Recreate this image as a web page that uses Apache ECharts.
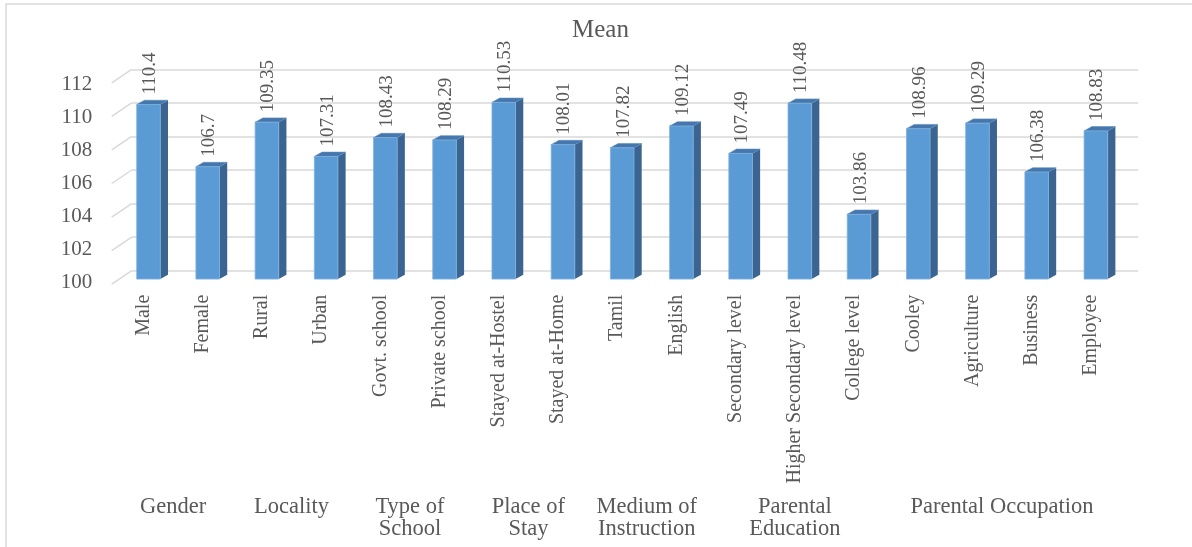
<!DOCTYPE html>
<html>
<head>
<meta charset="utf-8">
<script src="https://cdn.jsdelivr.net/npm/echarts@6/dist/echarts.min.js"></script>
<style>html,body{margin:0;padding:0;background:#fff;}#c{width:1192px;height:547px;}</style>
</head>
<body>
<div id="c"></div>
<script>
const categories = ['Male','Female','Rural','Urban','Govt. school','Private school','Stayed at-Hostel','Stayed at-Home','Tamil','English','Secondary level','Higher Secondary level','College level','Cooley','Agriculture','Business','Employee'];
const meanValues = [110.4,106.7,109.35,107.31,108.43,108.29,110.53,108.01,107.82,109.12,107.49,110.48,103.86,108.96,109.29,106.38,108.83];
const groupNames = ['Gender','Locality','Type of\nSchool','Place of\nStay','Medium of\nInstruction','Parental\nEducation','Parental Occupation'];
const groupStart = [0,2,4,6,8,10,13];
const groupEnd = [1,3,5,7,9,12,16];
const yTicks = [100,102,104,106,108,110,112];
const yMin = 100, yMax = 112, yStep = 2;

const FONT = "'Liberation Serif','Times New Roman',serif";
const TXT = '#595959';
const GRIDLINE = '#d9d9d9';

const chart = echarts.init(document.getElementById('c'), null, {renderer:'canvas'});

const option = {
  animation: false,
  backgroundColor: '#fff',
  title: {
    text: 'Mean', left: 572, top: 18, padding: 0,
    textStyle: {fontFamily: FONT, fontSize: 25, fontWeight: 'normal', color: TXT}
  },
  graphic: [{
    type: 'rect', silent: true, z: -10,
    shape: {x: 6, y: 4, width: 1400, height: 800},
    style: {fill: 'none', stroke: GRIDLINE, lineWidth: 1.5}
  }],
  grid: [
    {left: 131.7, right: 53.7, top: 69.3, bottom: 276.3},
    {left: 113.9, right: 71.5, top: 84, bottom: 264.3}
  ],
  xAxis: [
    {gridIndex: 0, type: 'category', data: categories, show: false},
    {gridIndex: 1, type: 'category', data: categories,
     axisLine: {show: false}, axisTick: {show: false}, splitLine: {show: false},
     axisLabel: {rotate: 90, margin: 12, interval: 0, fontFamily: FONT, fontSize: 20, color: TXT}}
  ],
  yAxis: [
    {gridIndex: 0, type: 'value', min: yMin, max: yMax, interval: yStep,
     axisLine: {show: false}, axisTick: {show: false}, axisLabel: {show: false},
     splitLine: {show: true, lineStyle: {color: GRIDLINE, width: 1.5}}},
    {gridIndex: 1, type: 'value', min: yMin, max: yMax, interval: yStep,
     axisLine: {show: false}, axisTick: {show: false}, splitLine: {show: false},
     axisLabel: {margin: 21.6, fontFamily: FONT, fontSize: 21, color: TXT}}
  ],
  series: [
    {
      type: 'custom', xAxisIndex: 0, yAxisIndex: 0, silent: true, z: 1,
      data: yTicks.map(t => [0, t]),
      renderItem: function (params, api) {
        const y = api.coord([0, api.value(1)])[1];
        const x = params.coordSys.x;
        return {type: 'line', shape: {x1: x, y1: y, x2: x - 20, y2: y + 13.5},
                style: {stroke: GRIDLINE, lineWidth: 1.5}};
      }
    },
    {
      type: 'custom', xAxisIndex: 0, yAxisIndex: 0, silent: true, z: 3,
      data: meanValues.map((v, i) => [i, v]),
      renderItem: function (params, api) {
        const i = api.value(0), v = api.value(1);
        const p = api.coord([i, v]);
        const b = api.coord([i, yMin]);
        const cx = p[0];
        const x0 = cx - 24.6, x1 = cx - 1;
        const off = 8.4;
        const yt = p[1] + off, yb = b[1] + off;
        const dx = 7.7, dy = 4.3;
        return {
          type: 'group',
          children: [
            {type: 'polygon', shape: {points: [[x1, yt], [x1 + dx, yt - dy], [x1 + dx, yb - dy], [x1, yb]]},
             style: {fill: '#3B6590'}},
            {type: 'polygon', shape: {points: [[x0, yt], [x1, yt], [x1 + dx, yt - dy], [x0 + dx, yt - dy]]},
             style: {fill: '#4577AC', stroke: '#5a8cc0', lineWidth: 0.6}},
            {type: 'rect', shape: {x: x0, y: yt, width: x1 - x0, height: yb - yt},
             style: {fill: '#5B9BD5', stroke: '#7fb0de', lineWidth: 0.8}},
            {type: 'text', x: cx - 11.3, y: yt - dy - 5.7, rotation: Math.PI / 2,
             style: {text: String(v), align: 'left', verticalAlign: 'middle',
                     fontFamily: FONT, fontSize: 19, fill: TXT}}
          ]
        };
      }
    },
    {
      type: 'custom', xAxisIndex: 1, yAxisIndex: 1, silent: true, z: 3,
      data: groupNames.map((n, k) => [groupStart[k], groupEnd[k]]),
      renderItem: function (params, api) {
        const k = params.dataIndex;
        const xs = api.coord([api.value(0), yMin])[0];
        const xe = api.coord([api.value(1), yMin])[0];
        const y = params.coordSys.y + params.coordSys.height + 213;
        return {type: 'text', x: (xs + xe) / 2, y: y,
                style: {text: groupNames[k], align: 'center', verticalAlign: 'top',
                        lineHeight: 22, fontFamily: FONT, fontSize: 22.5, fill: TXT}};
      }
    }
  ]
};
chart.setOption(option);
</script>
</body>
</html>
